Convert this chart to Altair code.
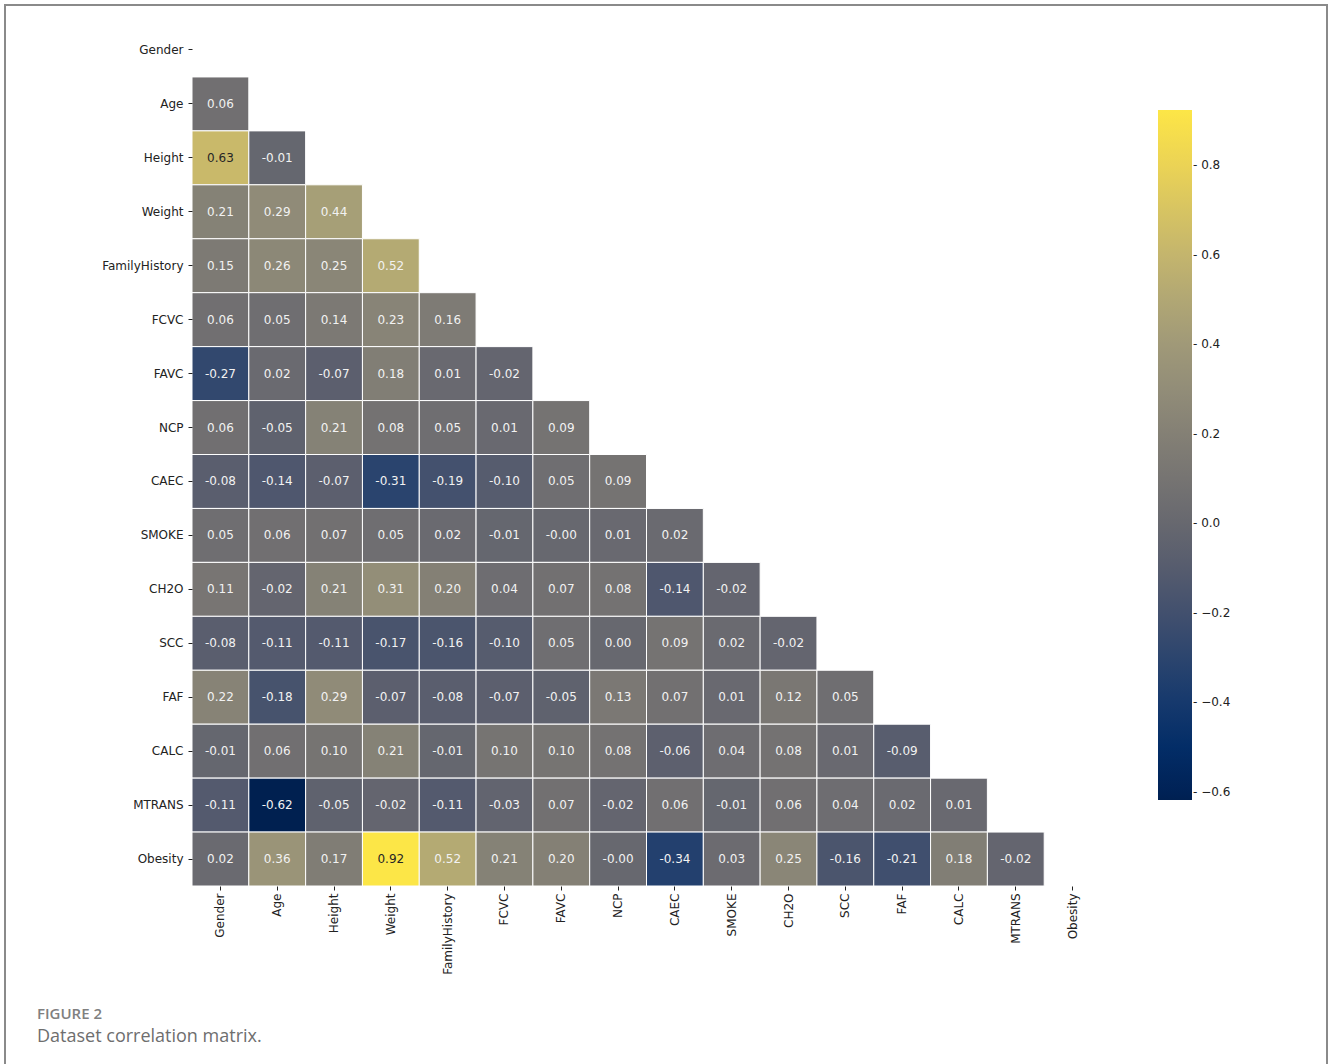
import altair as alt
import pandas as pd

variables = ["Gender", "Age", "Height", "Weight", "FamilyHistory", "FCVC", "FAVC",
             "NCP", "CAEC", "SMOKE", "CH2O", "SCC", "FAF", "CALC", "MTRANS", "Obesity"]

# lower-triangle correlations, row by row (row i has i values, columns Gender..)
row_Age = [0.06]
row_Height = [0.63, -0.01]
row_Weight = [0.21, 0.29, 0.44]
row_FamilyHistory = [0.15, 0.26, 0.25, 0.52]
row_FCVC = [0.06, 0.05, 0.14, 0.23, 0.16]
row_FAVC = [-0.27, 0.02, -0.07, 0.18, 0.01, -0.02]
row_NCP = [0.06, -0.05, 0.21, 0.08, 0.05, 0.01, 0.09]
row_CAEC = [-0.08, -0.14, -0.07, -0.31, -0.19, -0.10, 0.05, 0.09]
row_SMOKE = [0.05, 0.06, 0.07, 0.05, 0.02, -0.01, -0.0, 0.01, 0.02]
row_CH2O = [0.11, -0.02, 0.21, 0.31, 0.20, 0.04, 0.07, 0.08, -0.14, -0.02]
row_SCC = [-0.08, -0.11, -0.11, -0.17, -0.16, -0.10, 0.05, 0.00, 0.09, 0.02, -0.02]
row_FAF = [0.22, -0.18, 0.29, -0.07, -0.08, -0.07, -0.05, 0.13, 0.07, 0.01, 0.12, 0.05]
row_CALC = [-0.01, 0.06, 0.10, 0.21, -0.01, 0.10, 0.10, 0.08, -0.06, 0.04, 0.08, 0.01, -0.09]
row_MTRANS = [-0.11, -0.62, -0.05, -0.02, -0.11, -0.03, 0.07, -0.02, 0.06, -0.01, 0.06, 0.04, 0.02, 0.01]
row_Obesity = [0.02, 0.36, 0.17, 0.92, 0.52, 0.21, 0.20, -0.0, -0.34, 0.03, 0.25, -0.16, -0.21, 0.18, -0.02]

# colour range of the colourbar (unrounded min/max)
color_domain = [-0.618, 0.923]
legend_ticks = [-0.6, -0.4, -0.2, 0.0, 0.2, 0.4, 0.6, 0.8]

rows = {
    "Age": row_Age, "Height": row_Height, "Weight": row_Weight,
    "FamilyHistory": row_FamilyHistory, "FCVC": row_FCVC, "FAVC": row_FAVC,
    "NCP": row_NCP, "CAEC": row_CAEC, "SMOKE": row_SMOKE, "CH2O": row_CH2O,
    "SCC": row_SCC, "FAF": row_FAF, "CALC": row_CALC, "MTRANS": row_MTRANS,
    "Obesity": row_Obesity,
}

records = []
for rname, vals in rows.items():
    for j, v in enumerate(vals):
        records.append({"row": rname, "col": variables[j], "value": v, "label": f"{v:.2f}"})
df = pd.DataFrame(records)

x_enc = alt.X("col:N", sort=variables,
              scale=alt.Scale(domain=variables, paddingInner=0, paddingOuter=0),
              axis=alt.Axis(title=None, orient="bottom", labelAngle=-90, domain=False,
                            tickSize=4, tickColor="#222222", tickWidth=1,
                            labelPadding=3, labelFontSize=12, labelFont="DejaVu Sans",
                            labelColor="#222222"))
y_enc = alt.Y("row:N", sort=variables,
              scale=alt.Scale(domain=variables, paddingInner=0, paddingOuter=0),
              axis=alt.Axis(title=None, orient="left", domain=False,
                            tickSize=4, tickColor="#222222", tickWidth=1,
                            labelPadding=5, labelFontSize=12, labelFont="DejaVu Sans",
                            labelColor="#222222"))

base = alt.Chart(df)

cells = base.mark_rect(stroke="#ffffff", strokeWidth=1).encode(
    x=x_enc,
    y=y_enc,
    color=alt.Color("value:Q",
                    scale=alt.Scale(scheme="cividis", domain=color_domain, nice=False, zero=False),
                    legend=alt.Legend(title=None, orient="none", legendX=966, legendY=87,
                                      direction="vertical", gradientLength=690,
                                      gradientThickness=34, gradientStrokeWidth=0,
                                      values=legend_ticks, format=".1f",
                                      labelExpr="'-  ' + datum.label",
                                      labelOffset=1, labelFontSize=12,
                                      labelFont="DejaVu Sans", labelColor="#222222",
                                      labelOverlap=False, padding=0)),
)

texts = base.mark_text(fontSize=12, font="DejaVu Sans").encode(
    x=alt.X("col:N", sort=variables),
    y=alt.Y("row:N", sort=variables),
    text="label:N",
    color=alt.condition("datum.value > 0.55", alt.value("#262626"), alt.value("#f2f2f2")),
)

border = alt.Chart(alt.Data(values=[{}])).mark_rect(
    fill=None, filled=False, stroke="#8a8a8a", strokeWidth=2, clip=False
).encode(
    x=alt.value(-187), x2=alt.value(1135), y=alt.value(-18), y2=alt.value(1045)
)

chart = alt.layer(border, cells, texts).properties(
    width=909,
    height=863,
    background="white",
    autosize=alt.AutoSizeParams(type="none"),
    padding={"left": 192, "top": 23, "right": 227, "bottom": 178},
    title=alt.TitleParams(
        "FIGURE 2",
        subtitle="Dataset correlation matrix.",
        orient="bottom", anchor="start", frame="group",
        dx=-155, offset=-62,
        font="Open Sans", fontSize=15, fontWeight=600, color="#808080",
        subtitleFont="Open Sans", subtitleFontSize=18, subtitleColor="#6e6e6e",
        subtitlePadding=6,
    ),
).configure_view(strokeWidth=0, stroke="transparent")

chart.save("out.html", embed_options={"renderer": "svg", "actions": False})
